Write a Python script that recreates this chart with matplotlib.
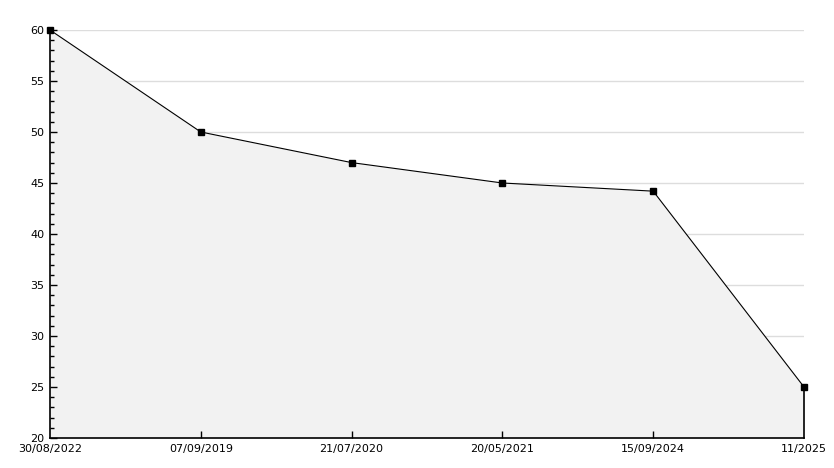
import matplotlib
matplotlib.use("Agg")
import matplotlib.pyplot as plt
from matplotlib.ticker import MultipleLocator

labels = ["30/08/2022", "07/09/2019", "21/07/2020", "20/05/2021", "15/09/2024", "11/2025"]
values = [60, 50, 47, 45, 44.2, 25]
grid_levels = [25, 30, 35, 40, 45, 50, 55, 60]

fig = plt.figure(figsize=(8.34, 4.68), dpi=100)
ax = fig.add_axes([50 / 834, 30 / 468, 754 / 834, 408 / 468])

x = list(range(len(values)))
# grid sits under the fill, ticks sit on top of it
for g in grid_levels:
    ax.axhline(g, color="#dddddd", lw=1, zorder=0)
ax.fill_between(x, values, 20, color="#f2f2f2", lw=0, zorder=1)
ax.plot(x, values, color="black", lw=0.8, zorder=3, clip_on=False)
ax.plot(x, values, ls="none", marker="s", ms=4.5, color="black", zorder=4, clip_on=False)
ax.plot([x[-1], x[-1]], [20, values[-1]], color="black", lw=1.2, zorder=3, clip_on=False)

ax.set_xlim(0, len(values) - 1)
ax.set_ylim(20, 60)
ax.set_xticks(x)
ax.set_xticklabels(labels)
ax.yaxis.set_major_locator(MultipleLocator(5))
ax.yaxis.set_minor_locator(MultipleLocator(1))
ax.set_axisbelow(False)

for s in ("top", "right"):
    ax.spines[s].set_visible(False)
for s in ("left", "bottom"):
    ax.spines[s].set_linewidth(1.2)
    ax.spines[s].set_zorder(5)

ax.tick_params(axis="y", which="major", direction="in", length=5, width=1, labelsize=8, pad=4)
ax.tick_params(axis="y", which="minor", direction="in", length=3, width=1)
ax.tick_params(axis="x", direction="in", length=5, width=1, labelsize=8, pad=4)

# the reference has no tick marks at the two end categories
xticks = ax.xaxis.get_major_ticks()
for t in (xticks[0], xticks[-1]):
    t.tick1line.set_visible(False)

fig.savefig("out.png", dpi=100)
